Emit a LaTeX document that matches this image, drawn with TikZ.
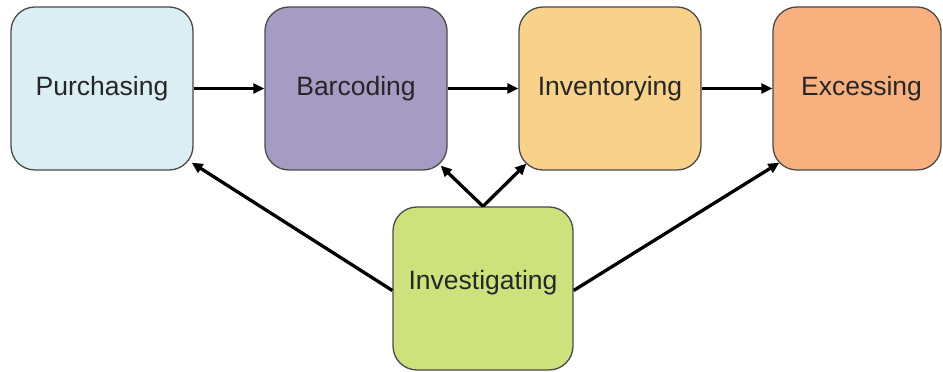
\documentclass[tikz,border=0pt]{standalone}
\usepackage{fontspec}
\setmainfont{Liberation Sans}
\usetikzlibrary{arrows.meta,calc}
\definecolor{cPur}{HTML}{DAEEF3}
\definecolor{cBar}{HTML}{A69BC3}
\definecolor{cInv}{HTML}{F8D18B}
\definecolor{cExc}{HTML}{F9B07F}
\definecolor{cInvest}{HTML}{CDE17C}
\definecolor{cEdge}{HTML}{4A4A4A}
\begin{document}
\begin{tikzpicture}[x=1pt,y=1pt,
  stage/.style={draw=cEdge,line width=1.3pt,rounded corners=24pt,minimum width=182pt,minimum height=163pt,inner sep=0pt,
    font=\fontsize{26.5}{30}\selectfont,text=black!85},
  flow/.style={line width=3.3pt,-{Triangle[length=11pt,width=10pt]}}]
\useasboundingbox (0,0) rectangle (943,372);
\node[stage,fill=cPur] (pur) at (102,283.5) {Purchasing};
\node[stage,fill=cBar] (bar) at (356,283.5) {Barcoding};
\node[stage,fill=cInv] (inv) at (610,283.5) {Inventorying};
\node[stage,fill=cExc,minimum width=168pt] (exc) at (857,283.5) {\hspace*{9pt}Excessing};
\node[stage,fill=cInvest,minimum width=180pt] (invest) at (483,83.5) {};
\node[font=\fontsize{26.5}{30}\selectfont,text=black!85,inner sep=0pt] (investlabel) at ($(invest.center)+(0,6)$) {Investigating};
\draw[flow] (pur.east) -- (bar.west);
\draw[flow] (bar.east) -- (inv.west);
\draw[flow] (inv.east) -- (exc.west);
\draw[flow] (invest.north) -- ($(bar.south east)+(-7,5)$);
\draw[flow] (invest.north) -- ($(inv.south west)+(8,7)$);
\draw[flow] ($(invest.west)+(0,-2)$) -- ($(pur.south east)+(-2,8)$);
\draw[flow] ($(invest.east)+(0,-2)$) -- ($(exc.south west)+(7,8)$);
\end{tikzpicture}
\end{document}
